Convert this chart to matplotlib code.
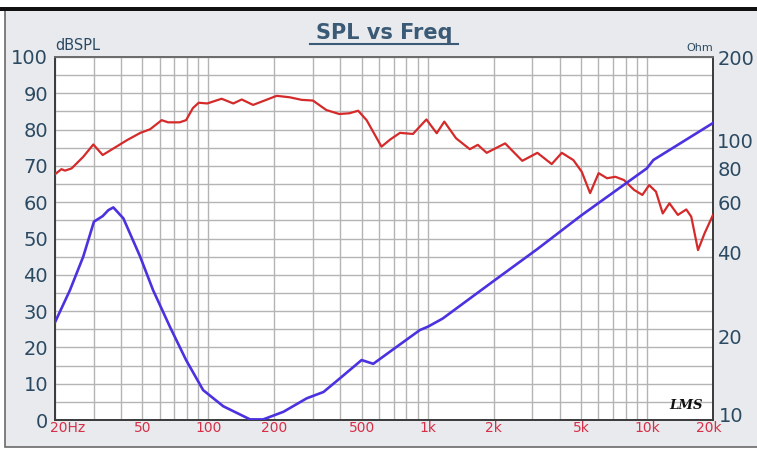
import matplotlib
matplotlib.use('Agg')
import matplotlib.pyplot as plt
from matplotlib.patches import Rectangle
from matplotlib.lines import Line2D
from matplotlib.ticker import FixedLocator, NullLocator, LogLocator, NullFormatter, MultipleLocator
import matplotlib.transforms as mtransforms

# ---- data ----
spl_freq = [20, 21.4, 22.2, 23.8, 26.9, 29.9, 33.0, 38.1, 42.6, 49.0, 54.3, 61.3, 65.6, 74, 79.2,
            85, 90.4, 98.9, 115, 130, 142, 160, 205, 235, 266, 300, 345, 395, 440, 482, 527,
            616, 676, 748, 857, 987, 1100, 1191, 1348, 1557, 1693, 1859, 2256, 2700, 3165,
            3678, 4090, 4617, 5040, 5505, 6020, 6575, 7180, 7850, 8730, 9530, 10230, 10990,
            11800, 12660, 13830, 15110, 15920, 17090, 18300, 20000]
spl_db = [67.7, 69.1, 68.7, 69.3, 72.5, 75.9, 73.0, 75.3, 77.1, 79.1, 80.1, 82.6, 82.0, 82.0, 82.6,
          85.9, 87.4, 87.2, 88.5, 87.2, 88.3, 86.8, 89.3, 88.9, 88.2, 88.0, 85.4, 84.3, 84.5, 85.2, 82.6,
          75.3, 77.3, 79.1, 78.8, 82.8, 79.0, 82.2, 77.6, 74.6, 75.8, 73.6, 76.2, 71.4, 73.6,
          70.5, 73.6, 71.6, 68.4, 62.5, 68.0, 66.6, 67.0, 66.1, 63.4, 62.0, 64.7, 62.9,
          56.9, 59.7, 56.5, 58.0, 56.0, 46.8, 51.4, 56.5]

imp_freq = [20, 23.4, 26.9, 30.1, 33, 35, 36.9, 41, 48.9, 56, 66.8, 79.2, 94.7, 117, 155, 178,
            220, 281, 335, 398, 500, 565, 723, 921, 1003, 1171, 2000, 3165, 5000, 9990, 10700, 20000]
imp_ohm = [22.4, 29.2, 38.5, 51.4, 53.8, 56.5, 57.8, 52.8, 38.5, 29.2, 21.6, 16.4, 12.8, 11.2, 10.05, 10.05,
           10.7, 11.96, 12.6, 14.1, 16.4, 15.9, 18.3, 21.0, 21.6, 23.1, 31.5, 41.0, 54.0, 79.8, 85.5, 116]

x_ticks = [20, 50, 100, 200, 500, 1000, 2000, 5000, 10000, 20000]
x_labels = ['20Hz', '50', '100', '200', '500', '1k', '2k', '5k', '10k', '20k']
db_ticks = [0, 10, 20, 30, 40, 50, 60, 70, 80, 90, 100]
ohm_ticks = [10, 20, 40, 60, 80, 100, 200]

# ---- styling ----
W, H = 757, 450
label_col = '#2b4a62'
red_lbl = '#d62f47'
grid_col = '#b4b4b4'
plt.rcParams['font.family'] = ['DejaVu Sans']

fig = plt.figure(figsize=(W / 100, H / 100), dpi=100)
fig.patch.set_facecolor('white')
fig.add_artist(Rectangle((5 / W, 3 / H), 1.0, 437 / H, transform=fig.transFigure,
                         facecolor='#e8eaee', edgecolor='#6a6a6a', lw=1.2, zorder=-5))
fig.add_artist(Rectangle((0, 1 - 11 / H), 1.0, 4 / H, transform=fig.transFigure,
                         facecolor='#111111', edgecolor='none', zorder=-4))

ax = fig.add_axes([55 / W, 30 / H, 658 / W, 363 / H])
ax.set_facecolor('white')
ax.set_xscale('log')
ax.set_xlim(20, 20000)
ax.set_ylim(0, 100)

ax.xaxis.set_major_locator(FixedLocator(x_ticks))
ax.set_xticklabels(x_labels)
ax.xaxis.set_minor_locator(LogLocator(base=10, subs=[1, 2, 3, 4, 5, 6, 7, 8, 9], numticks=30))
ax.xaxis.set_minor_formatter(NullFormatter())
ax.set_yticks(db_ticks)
ax.yaxis.set_minor_locator(MultipleLocator(5))

ax.grid(which='both', color=grid_col, lw=1.0)
ax.set_axisbelow(True)
ax.tick_params(axis='both', which='both', length=0)
ax.tick_params(axis='x', labelsize=10, labelcolor=red_lbl, pad=1)
ax.tick_params(axis='y', labelsize=14, labelcolor=label_col, pad=5)

for sp in ax.spines.values():
    sp.set_color('#3a3a3a')
    sp.set_linewidth(1.4)
ax.spines['top'].set_color('#6a6a6a')

lbls = ax.get_xticklabels()
lbls[0].set_horizontalalignment('left')
lbls[0].set_transform(lbls[0].get_transform() + mtransforms.ScaledTranslation(-5 / 100, 0, fig.dpi_scale_trans))
lbls[-1].set_transform(lbls[-1].get_transform() + mtransforms.ScaledTranslation(-4 / 100, 0, fig.dpi_scale_trans))

ax.plot(spl_freq, spl_db, color='#d42a2a', lw=1.6, solid_joinstyle='round', zorder=3)

ax2 = ax.twinx()
ax2.set_yscale('log')
ax2.set_ylim(10, 200)
ax2.yaxis.set_major_locator(FixedLocator(ohm_ticks))
ax2.set_yticklabels([str(t) for t in ohm_ticks])
ax2.yaxis.set_minor_locator(NullLocator())
ax2.tick_params(axis='y', which='both', length=0, labelsize=14, labelcolor=label_col, pad=3)
for sp in ax2.spines.values():
    sp.set_visible(False)
rl = ax2.get_yticklabels()
rl[0].set_transform(rl[0].get_transform() + mtransforms.ScaledTranslation(2 / 100, 5 / 100, fig.dpi_scale_trans))
ax2.plot(imp_freq, imp_ohm, color='#4b32e0', lw=1.9, solid_joinstyle='round', zorder=3)

# units
ax.text(0.0, 1.01, 'dBSPL', transform=ax.transAxes, ha='left', va='bottom',
        fontsize=10.5, color=label_col)
ax.text(1.0, 1.01, 'Ohm', transform=ax.transAxes, ha='right', va='bottom',
        fontsize=8, color=label_col)

# title with underline
fig.text(384 / W, 1 - 33 / H, 'SPL vs Freq', ha='center', va='center', fontsize=15,
         fontweight='bold', color='#3b5a75')
fig.add_artist(Line2D([310 / W, 458 / W], [1 - 44 / H, 1 - 44 / H], transform=fig.transFigure,
                      color='#3b5a75', lw=1.5))

# logo
ax.text(0.959, 0.04, 'LMS', transform=ax.transAxes, ha='center', va='center',
        fontsize=9.5, fontstyle='italic', fontweight='bold', family='DejaVu Serif', color='#111111')

fig.savefig('out.png', dpi=100)
